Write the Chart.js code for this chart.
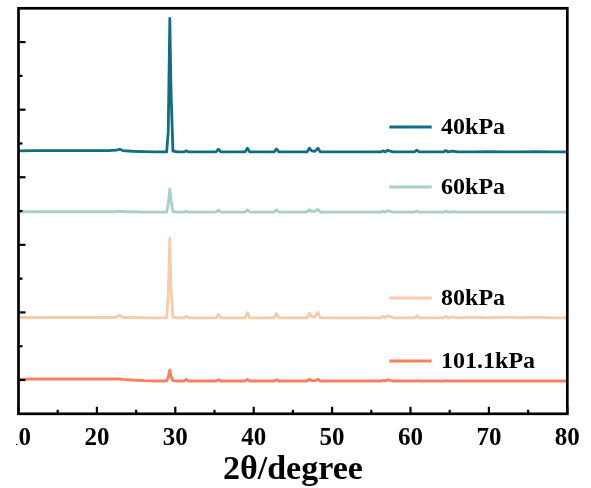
<!DOCTYPE html>
<html>
<head>
<meta charset="utf-8">
<script src="https://cdn.jsdelivr.net/npm/chart.js@4/dist/chart.umd.min.js"></script>
<style>
  html, body { margin: 0; padding: 0; background: #fff; overflow: hidden; }
  #xrdChart { display: block; position: absolute; left: -4px; top: 0; clip-path: inset(0 0 0 20px); }
</style>
</head>
<body>
<canvas id="xrdChart" width="595" height="491"></canvas>
<script>
// 2θ sample positions (degrees), shared by all patterns
const twoTheta = [10, 12, 14, 16, 18, 20, 21.5, 22.5, 22.9, 23.3, 24.5, 26, 27.5, 28.9, 29.1, 29.3, 29.45, 29.7, 30.3, 31.1,
    31.4, 31.7, 33, 35.2, 35.5, 35.8, 37.5, 38.9, 39.2, 39.5, 41, 42.6, 42.9, 43.2, 45, 46.8, 47.1, 47.4, 47.8, 48.2,
    48.5, 50, 52, 54, 56.2, 56.5, 56.8, 57.1, 57.4, 57.8, 59, 60.5, 60.8, 61.1, 62.5, 64.2, 64.5, 64.8, 65.4, 66,
    68, 70, 72, 74, 76, 78, 80];

const seriesLabels = ['40kPa', '60kPa', '80kPa', '101.1kPa'];

// relative intensities (arb. units)
const int40kPa = [0.03, 0.04, 0.04, 0.04, 0.04, 0.04, 0.04, 0.05, 0.08, 0.04, 0.02, 0.01, 0, 0, 0.60, 3.95, 1.80, 0.02, 0, 0,
    0.03, 0, 0, 0, 0.08, 0, 0, 0, 0.11, 0, 0, 0, 0.09, 0, 0, 0, 0.11, 0.03, 0.02, 0.11,
    0, 0, 0, 0, 0, 0.03, 0, 0.05, 0.02, 0, 0, 0, 0.05, 0, 0, 0, 0.04, 0, 0.02, 0,
    0, 0.01, 0, 0, 0.01, 0, 0];
const int60kPa = [0.01, 0.01, 0.01, 0.01, 0.01, 0.01, 0.01, 0.01, 0.03, 0.01, 0.01, 0, 0, 0, 0.25, 0.68, 0.35, 0.01, 0, 0,
    0.02, 0, 0, 0, 0.06, 0, 0, 0, 0.07, 0, 0, 0, 0.07, 0, 0, 0, 0.07, 0.02, 0.02, 0.08,
    0, 0, 0, 0, 0, 0.02, 0, 0.04, 0.02, 0, 0, 0, 0.03, 0, 0, 0, 0.02, 0, 0.01, 0,
    0, 0, 0, 0, 0, 0, 0];
const int80kPa = [0.01, 0.01, 0.01, 0.01, 0.01, 0.01, 0.01, 0.02, 0.08, 0.01, 0.01, 0, 0, 0, 0.70, 2.35, 0.90, 0.02, 0, 0,
    0.04, 0, 0, 0, 0.10, 0, 0, 0, 0.15, 0, 0, 0, 0.13, 0, 0, 0, 0.14, 0.03, 0.03, 0.16,
    0, 0, 0, 0, 0, 0.05, 0, 0.06, 0.04, 0, 0, 0, 0.06, 0, 0, 0, 0.05, 0, 0.03, 0,
    0.02, 0, 0.02, 0, 0.02, 0, 0];
const int101kPa = [0.05, 0.06, 0.06, 0.06, 0.06, 0.06, 0.06, 0.06, 0.06, 0.05, 0.03, 0.01, 0, 0, 0.12, 0.33, 0.15, 0.01, 0, 0,
    0.05, 0, 0, 0, 0.04, 0, 0, 0, 0.05, 0, 0, 0, 0.04, 0, 0, 0, 0.05, 0.01, 0.01, 0.05,
    0, 0, 0, 0, 0, 0.02, 0, 0.04, 0.02, 0, 0, 0, 0.01, 0, 0, 0, 0.01, 0, 0, 0,
    0, 0, 0, 0, 0, 0, 0];

// vertical stacking offsets of each pattern
const stackOffsets = [7.75, 5.97, 2.84, 0.97];

const xTickValues = [10, 20, 30, 40, 50, 60, 70, 80];

const seriesColors = ['#0f6e80', '#a9cfca', '#f9cba8', '#f5825d'];

// legend anchor (data units): line from xLine[0] to xLine[1], text at xText
const legendAt = { xLine: [57.3, 62.7], xText: 63.9, y: [8.49, 6.71, 3.43, 1.56] };

const intensities = [int40kPa, int60kPa, int80kPa, int101kPa];
const serifBold = size => ({ family: "'Liberation Serif', 'Times New Roman', serif", size: size, weight: 'bold' });

const frameAndLegend = {
    id: 'frameAndLegend',
    afterDatasetsDraw(chart) {
        const { ctx, chartArea: a, scales: { x, y } } = chart;
        ctx.save();
        ctx.strokeStyle = '#000';
        ctx.lineWidth = 2.2;
        // inward ticks on bottom axis: majors every 10, minors every 5
        for (let v = 10; v <= 80; v += 5) {
            const px = x.getPixelForValue(v);
            const len = v % 10 === 0 ? 7 : 4;
            ctx.beginPath();
            ctx.moveTo(px, a.bottom);
            ctx.lineTo(px, a.bottom - len);
            ctx.stroke();
        }
        // inward ticks on left axis: odd values long, even short
        for (let v = 1; v < 12; v++) {
            const py = y.getPixelForValue(v);
            const len = v % 2 === 1 ? 7 : 4;
            ctx.beginPath();
            ctx.moveTo(a.left, py);
            ctx.lineTo(a.left + len, py);
            ctx.stroke();
        }
        ctx.lineWidth = 2.7;
        ctx.strokeRect(a.left, a.top, a.right - a.left, a.bottom - a.top);

        // legend next to each pattern
        ctx.font = 'bold 24px "Liberation Serif"';
        ctx.textBaseline = 'middle';
        ctx.textAlign = 'left';
        seriesLabels.forEach((label, i) => {
            const py = y.getPixelForValue(legendAt.y[i]);
            ctx.strokeStyle = seriesColors[i];
            ctx.lineWidth = 3;
            ctx.beginPath();
            ctx.moveTo(x.getPixelForValue(legendAt.xLine[0]), py);
            ctx.lineTo(x.getPixelForValue(legendAt.xLine[1]), py);
            ctx.stroke();
            ctx.fillStyle = '#000';
            ctx.fillText(label, x.getPixelForValue(legendAt.xText), py + 1);
        });
        ctx.restore();
    }
};

new Chart(document.getElementById('xrdChart').getContext('2d'), {
    type: 'line',
    data: {
        datasets: seriesLabels.map((label, i) => ({
            label: label,
            data: twoTheta.map((t, j) => ({ x: t, y: intensities[i][j] + stackOffsets[i] })),
            borderColor: seriesColors[i],
            borderWidth: 2.8,
            borderJoinStyle: 'round',
            pointRadius: 0,
            tension: 0,
            fill: false
        }))
    },
    options: {
        responsive: false,
        animation: false,
        layout: { padding: { left: 15, right: 23.7, top: 8.3, bottom: 0 } },
        plugins: { legend: { display: false }, tooltip: { enabled: false } },
        scales: {
            x: {
                type: 'linear',
                min: 10,
                max: 80,
                afterBuildTicks: s => { s.ticks = xTickValues.map(v => ({ value: v })); },
                afterFit: s => { s.height = 77.2; },
                ticks: { font: serifBold(25), color: '#000', padding: 10, maxRotation: 0 },
                grid: { display: false, drawTicks: false },
                border: { display: false },
                title: { display: true, text: '2θ/degree', font: serifBold(34), color: '#000', padding: 0 }
            },
            y: {
                min: 0,
                max: 12,
                afterFit: s => { s.width = 0; },
                ticks: { display: false },
                grid: { display: false, drawTicks: false },
                border: { display: false }
            }
        }
    },
    plugins: [frameAndLegend]
});
</script>
</body>
</html>
